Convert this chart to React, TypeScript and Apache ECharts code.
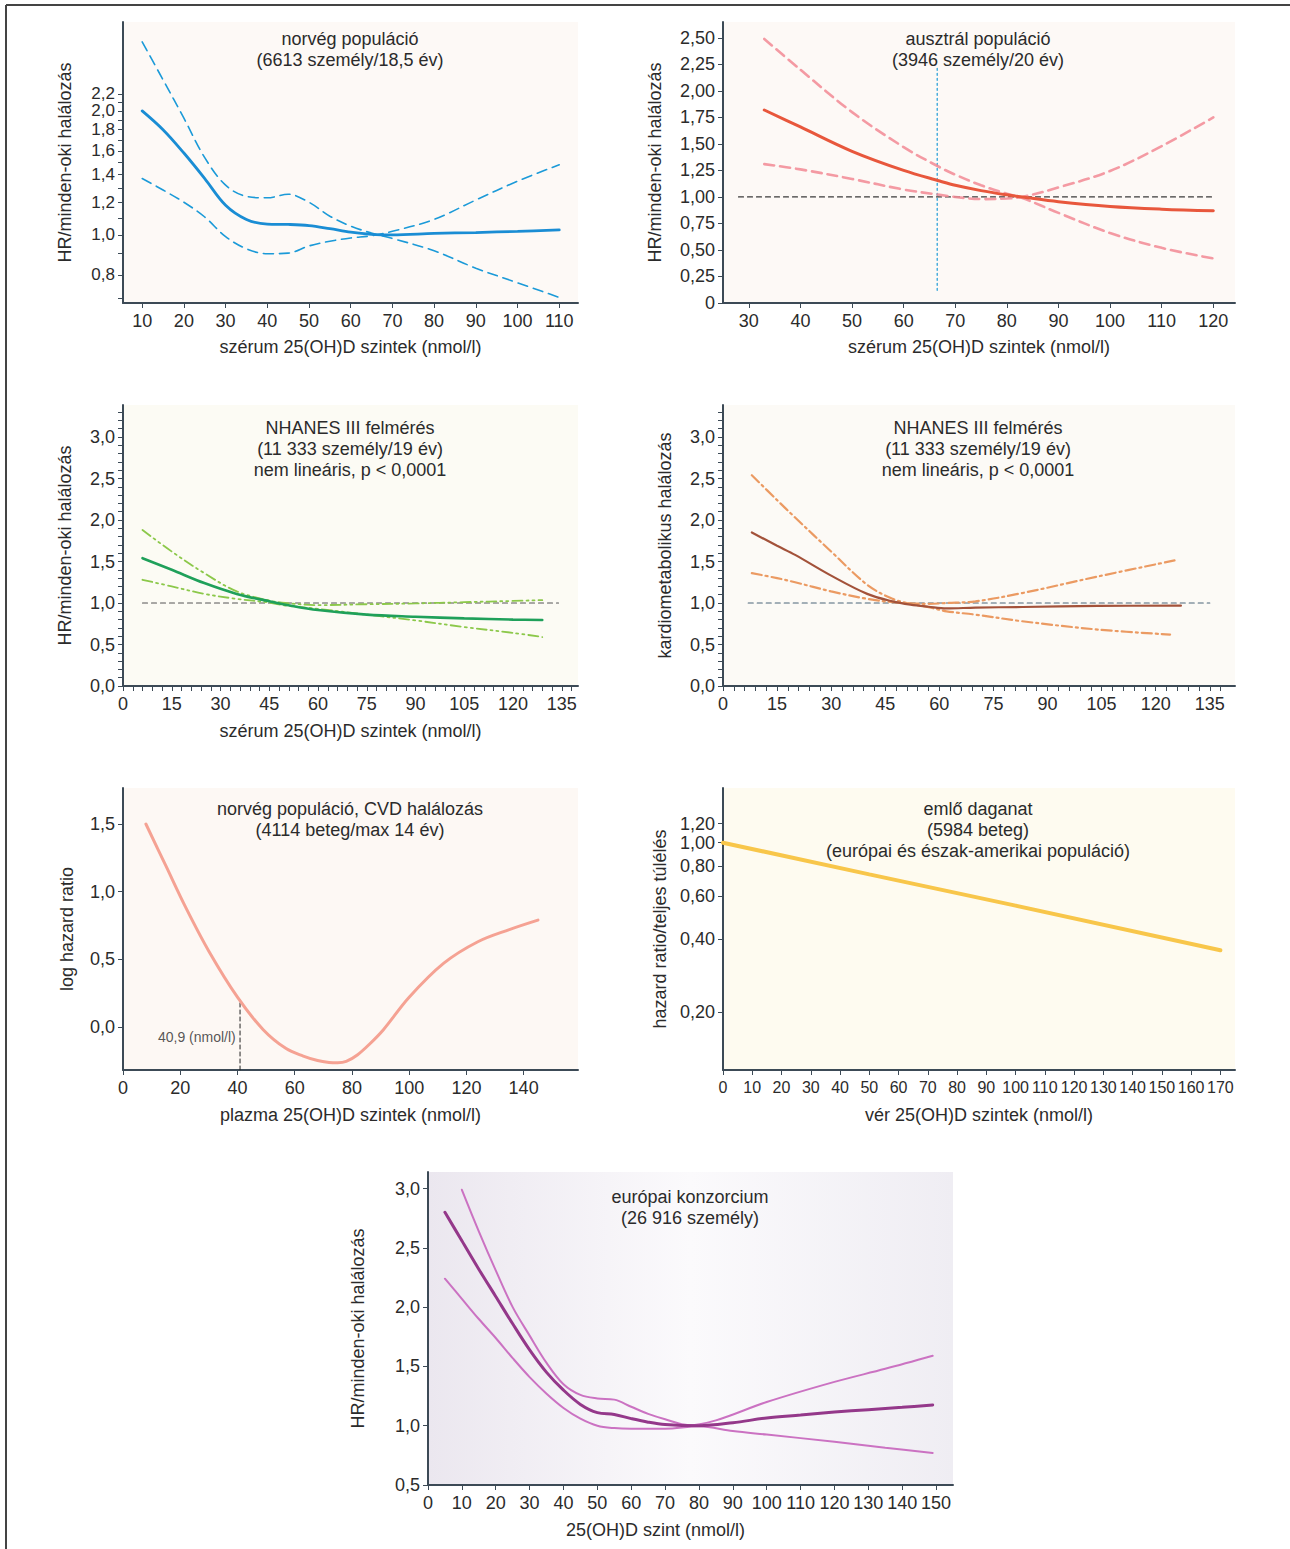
import React, { useEffect, useRef } from "react";
import * as echarts from "echarts";

// ---------- Panel 1: norvég populáció ----------
const norX = [10, 15, 20, 25, 30, 35, 40, 45, 50, 55, 60, 65, 70, 80, 90, 100, 110];
const norHR = [2.0, 1.8, 1.58, 1.37, 1.18, 1.09, 1.062, 1.06, 1.053, 1.035, 1.015, 1.003, 1.0, 1.008, 1.013, 1.02, 1.028];
const norUpper = [2.94, 2.38, 1.92, 1.54, 1.32, 1.24, 1.23, 1.255, 1.2, 1.11, 1.05, 1.01, 0.98, 0.915, 0.83, 0.765, 0.705];
const norLower = [1.37, 1.285, 1.2, 1.105, 0.99, 0.925, 0.9, 0.903, 0.94, 0.965, 0.983, 0.995, 1.02, 1.09, 1.215, 1.35, 1.48];
const norXLabels = [10, 20, 30, 40, 50, 60, 70, 80, 90, 100, 110];
const norYLabels = [0.8, 1.0, 1.2, 1.4, 1.6, 1.8, 2.0, 2.2];
const norYTicks = [0.7, 0.8, 0.9, 1.0, 1.1, 1.2, 1.3, 1.4, 1.5, 1.6, 1.7, 1.8, 1.9, 2.0, 2.1, 2.2];

// ---------- Panel 2: ausztrál populáció ----------
const ausX = [33, 40, 50, 60, 67, 70, 75, 80, 83, 90, 100, 110, 120];
const ausHR = [1.82, 1.66, 1.43, 1.25, 1.15, 1.11, 1.06, 1.02, 1.0, 0.955, 0.91, 0.885, 0.87];
const ausUpper = [2.49, 2.2, 1.8, 1.47, 1.28, 1.21, 1.11, 1.03, 0.99, 0.85, 0.66, 0.52, 0.42];
const ausLower = [1.31, 1.26, 1.17, 1.07, 1.02, 1.0, 0.98, 0.985, 1.0, 1.09, 1.245, 1.48, 1.75];
const ausRefX = [28, 120];
const ausCutoff = 66.5;
const ausXLabels = [30, 40, 50, 60, 70, 80, 90, 100, 110, 120];
const ausYLabels = [0, 0.25, 0.5, 0.75, 1.0, 1.25, 1.5, 1.75, 2.0, 2.25, 2.5];

// ---------- Panel 3: NHANES III (összes halálozás) ----------
const nhX = [6, 15, 25, 35, 45, 50, 60, 75, 90, 105, 120, 129];
const nhHR = [1.54, 1.4, 1.24, 1.11, 1.02, 0.98, 0.915, 0.86, 0.835, 0.815, 0.8, 0.795];
const nhUpper = [1.88, 1.62, 1.36, 1.14, 1.03, 1.0, 0.975, 0.985, 0.995, 1.01, 1.025, 1.035];
const nhLower = [1.28, 1.2, 1.11, 1.05, 1.005, 0.97, 0.93, 0.86, 0.79, 0.71, 0.64, 0.59];
const nhRefX = [6, 134];

// ---------- Panel 4: NHANES III (kardiometabolikus) ----------
const kmX = [8, 15, 20, 30, 40, 47, 52, 57, 62, 70, 83, 104, 127];
const kmHR = [1.85, 1.69, 1.58, 1.33, 1.11, 1.02, 0.98, 0.955, 0.935, 0.945, 0.952, 0.965, 0.968];
const kmCiAX = [8, 15, 20, 30, 40, 47, 52, 57, 62, 70, 83, 104, 124];
const kmCiA = [2.54, 2.24, 2.03, 1.62, 1.22, 1.05, 0.99, 0.95, 0.9, 0.86, 0.78, 0.68, 0.62];
const kmCiBX = [8, 15, 20, 30, 40, 47, 52, 57, 62, 70, 83, 104, 126];
const kmCiB = [1.36, 1.3, 1.25, 1.14, 1.05, 1.01, 0.995, 0.99, 1.0, 1.02, 1.12, 1.32, 1.52];
const kmRefX = [7, 135];

const nhXLabels = [0, 15, 30, 45, 60, 75, 90, 105, 120, 135];
const nhXTicks = [0, 3, 6, 9, 12, 15, 18, 21, 24, 27, 30, 33, 36, 39, 42, 45, 48, 51, 54, 57, 60, 63, 66, 69, 72, 75, 78, 81, 84, 87, 90, 93, 96, 99, 102, 105, 108, 111, 114, 117, 120, 123, 126, 129, 132, 135, 138];
const nhYLabels = [0, 0.5, 1.0, 1.5, 2.0, 2.5, 3.0];
const nhYTicks = [0, 0.1, 0.2, 0.3, 0.4, 0.5, 0.6, 0.7, 0.8, 0.9, 1.0, 1.1, 1.2, 1.3, 1.4, 1.5, 1.6, 1.7, 1.8, 1.9, 2.0, 2.1, 2.2, 2.3, 2.4, 2.5, 2.6, 2.7, 2.8, 2.9, 3.0, 3.1, 3.2, 3.3];

// ---------- Panel 5: norvég, CVD ----------
const cvdX = [8, 15, 22, 30, 40, 49, 57, 63, 68, 72, 75, 78, 82, 86, 91, 100, 112, 124, 135, 145];
const cvdLogHR = [1.5, 1.19, 0.88, 0.56, 0.22, -0.02, -0.16, -0.215, -0.248, -0.262, -0.265, -0.255, -0.205, -0.13, -0.02, 0.22, 0.47, 0.63, 0.72, 0.79];
const cvdCut = 40.9;
const cvdXLabels = [0, 20, 40, 60, 80, 100, 120, 140];
const cvdYLabels = [0, 0.5, 1.0, 1.5];

// ---------- Panel 6: emlő daganat ----------
const brX = [0, 50, 100, 170];
const brHR = [1.0, 0.74, 0.55, 0.36];
const brXLabels = [0, 10, 20, 30, 40, 50, 60, 70, 80, 90, 100, 110, 120, 130, 140, 150, 160, 170];
const brYLabels = [0.2, 0.4, 0.6, 0.8, 1.0, 1.2];

// ---------- Panel 7: európai konzorcium ----------
const euX = [5, 10, 15, 20, 25, 30, 35, 40, 45, 50, 55, 60, 65, 70, 80, 90, 100, 110, 120, 130, 140, 149];
const euHR = [2.8, 2.56, 2.32, 2.09, 1.86, 1.64, 1.45, 1.3, 1.18, 1.11, 1.095, 1.06, 1.03, 1.01, 1.0, 1.025, 1.065, 1.09, 1.115, 1.135, 1.155, 1.175];
const euUpX = [10, 15, 20, 25, 30, 35, 40, 45, 50, 55, 60, 65, 70, 77, 85, 100, 120, 135, 149];
const euUpper = [2.99, 2.64, 2.31, 2.0, 1.76, 1.53, 1.35, 1.26, 1.23, 1.22, 1.16, 1.1, 1.055, 1.005, 1.045, 1.2, 1.37, 1.48, 1.59];
const euLoX = [5, 10, 15, 20, 25, 30, 35, 40, 45, 50, 55, 60, 70, 80, 90, 100, 120, 135, 149];
const euLower = [2.24, 2.07, 1.9, 1.74, 1.57, 1.41, 1.27, 1.15, 1.06, 1.0, 0.98, 0.975, 0.975, 0.995, 0.955, 0.925, 0.865, 0.815, 0.77];
const euXLabels = [0, 10, 20, 30, 40, 50, 60, 70, 80, 90, 100, 110, 120, 130, 140, 150];
const euYLabels = [0.5, 1.0, 1.5, 2.0, 2.5, 3.0];

const FONT = "'Liberation Sans', Arial, Helvetica, sans-serif";
const AXIS = "#3c4a56";
const TXT = "#2b2b2b";
const FS = 18;

const ln = (v: number) => Math.log(v);
const comma = (s: string) => s.replace(".", ",");

function pts(xs: number[], ys: number[], tf: (v: number) => number = (v) => v) {
  return xs.map((x, i) => [x, tf(ys[i])]);
}

function xAxis(gi: number, min: number, max: number, labels: number[], ticks: number[], name: string, opts: any = {}) {
  return {
    type: "value",
    gridIndex: gi,
    min,
    max,
    name,
    nameLocation: "middle",
    nameGap: opts.nameGap ?? 35,
    nameTextStyle: { fontSize: FS, color: TXT, fontFamily: FONT, padding: opts.namePadding ?? 0 },
    axisLine: { show: true, onZero: false, lineStyle: { color: AXIS, width: 2 } },
    axisTick: { show: true, length: 5, customValues: ticks, lineStyle: { color: AXIS, width: 1 } },
    axisLabel: {
      customValues: labels,
      showMinLabel: true,
      showMaxLabel: true,
      hideOverlap: false,
      fontSize: opts.fontSize ?? FS,
      color: TXT,
      fontFamily: FONT,
      margin: 9,
      formatter: (v: number) => String(Math.round(v)),
    },
    splitLine: { show: false },
  };
}

function yAxis(gi: number, min: number, max: number, labels: number[], ticks: number[], name: string, fmt: (v: number) => string, gap: number, fontSize: number = FS) {
  return {
    type: "value",
    gridIndex: gi,
    min,
    max,
    name,
    nameLocation: "middle",
    nameGap: gap,
    nameTextStyle: { fontSize: FS, color: TXT, fontFamily: FONT },
    axisLine: { show: true, onZero: false, lineStyle: { color: AXIS, width: 2 } },
    axisTick: { show: true, length: 5, customValues: ticks, lineStyle: { color: AXIS, width: 1 } },
    axisLabel: {
      customValues: labels,
      showMinLabel: true,
      showMaxLabel: true,
      hideOverlap: false,
      fontSize,
      color: TXT,
      fontFamily: FONT,
      margin: 8,
      formatter: fmt,
    },
    splitLine: { show: false },
  };
}

function line(gi: number, data: number[][], color: string, width: number, type: any = "solid", smooth: number | boolean = 0.35) {
  return {
    type: "line",
    xAxisIndex: gi,
    yAxisIndex: gi,
    data,
    smooth,
    symbol: "none",
    silent: true,
    lineStyle: { color, width, type, cap: "round" },
    z: 3,
  };
}

export default function App() {
  const ref = useRef<HTMLDivElement>(null);
  useEffect(() => {
    document.body.style.margin = "0";
    const chart = echarts.init(ref.current!, null, { renderer: "svg" });

    const grids = [
      { left: 123, top: 22, width: 455, height: 281, show: true, borderWidth: 0, backgroundColor: "#fdf9f6" },
      { left: 723, top: 22, width: 512, height: 281, show: true, borderWidth: 0, backgroundColor: "#fdf9f6" },
      { left: 123, top: 405, width: 455, height: 281, show: true, borderWidth: 0, backgroundColor: "#fcfbf4" },
      { left: 723, top: 405, width: 512, height: 281, show: true, borderWidth: 0, backgroundColor: "#fcfaf6" },
      { left: 123, top: 788, width: 455, height: 282, show: true, borderWidth: 0, backgroundColor: "#fdf8f4" },
      { left: 723, top: 788, width: 512, height: 282, show: true, borderWidth: 0, backgroundColor: "#fefbf0" },
      {
        left: 428, top: 1172, width: 525, height: 313, show: true, borderWidth: 0,
        backgroundColor: {
          type: "linear", x: 0, y: 0, x2: 1, y2: 0,
          colorStops: [
            { offset: 0, color: "#ebe7ef" },
            { offset: 0.5, color: "#fbfafc" },
            { offset: 1, color: "#efedf3" },
          ],
        },
      },
    ];

    const f1 = (v: number) => comma(v.toFixed(1));
    const fLn1 = (v: number) => comma(Math.exp(v).toFixed(1));
    const fLn2 = (v: number) => comma(Math.exp(v).toFixed(2));
    const fAus = (v: number) => (Math.abs(v) < 1e-9 ? "0" : comma(v.toFixed(2)));

    const xAxes = [
      xAxis(0, 5.4, 114.5, norXLabels, norXLabels, "szérum 25(OH)D szintek (nmol/l)"),
      xAxis(1, 25, 124.2, ausXLabels, ausXLabels, "szérum 25(OH)D szintek (nmol/l)"),
      xAxis(2, 0, 140, nhXLabels, nhXTicks, "szérum 25(OH)D szintek (nmol/l)", { nameGap: 36 }),
      xAxis(3, 0, 142, nhXLabels, nhXTicks, ""),
      xAxis(4, 0, 159, cvdXLabels, cvdXLabels, "plazma 25(OH)D szintek (nmol/l)", { nameGap: 36 }),
      xAxis(5, 0, 175, brXLabels, brXLabels, "vér 25(OH)D szintek (nmol/l)", { nameGap: 36, fontSize: 16 }),
      xAxis(6, 0, 155, euXLabels, euXLabels, "25(OH)D szint (nmol/l)", { nameGap: 36, namePadding: [0, 70, 0, 0] }),
    ];

    const yAxes = [
      yAxis(0, -0.381, 1.19, norYLabels.map(ln), norYTicks.map(ln), "HR/minden-oki halálozás", fLn1, 49, 17),
      yAxis(1, 0, 2.65, ausYLabels, ausYLabels, "HR/minden-oki halálozás", fAus, 59),
      yAxis(2, 0, 3.386, nhYLabels, nhYTicks, "HR/minden-oki halálozás", f1, 49),
      yAxis(3, 0, 3.386, nhYLabels, nhYTicks, "kardiometabolikus halálozás", f1, 49),
      yAxis(4, -0.318, 1.766, cvdYLabels, cvdYLabels, "log hazard ratio", f1, 47),
      yAxis(5, -2.16, 0.52, brYLabels.map(ln), brYLabels.map(ln), "hazard ratio/teljes túlélés", fLn2, 54),
      yAxis(6, 0.5, 3.14, euYLabels, euYLabels, "HR/minden-oki halálozás", f1, 61),
    ];

    const blue = "#1b9ad8";
    const redMain = "#e8573c";
    const redCI = "rgba(242,138,148,0.85)";
    const greenMain = "#1fa05a";
    const greenCI = "#8cc84a";
    const brownMain = "#a3523a";
    const brownCI = "#eb9a62";
    const refDash = [5, 4];

    const series: any[] = [
      // Panel 1
      line(0, pts(norX, norUpper, ln), blue, 1.6, [10, 6]),
      line(0, pts(norX, norLower, ln), blue, 1.6, [10, 6]),
      line(0, pts(norX, norHR, ln), "#1a8dd4", 2.8),
      // Panel 2
      line(1, pts(ausRefX, [1, 1]), "#3a3a3a", 1.2, refDash, false),
      line(1, [[ausCutoff, 0.12], [ausCutoff, 2.23]], "#1a9ad6", 1.2, [2, 3], false),
      line(1, pts(ausX, ausUpper), redCI, 2.6, [10, 6]),
      line(1, pts(ausX, ausLower), redCI, 2.6, [10, 6]),
      line(1, pts(ausX, ausHR), redMain, 3),
      // Panel 3
      line(2, pts(nhRefX, [1, 1]), "#555555", 1.2, refDash, false),
      line(2, pts(nhX, nhUpper), greenCI, 1.8, [10, 4, 2, 4, 2, 4]),
      line(2, pts(nhX, nhLower), greenCI, 1.8, [10, 4, 2, 4, 2, 4]),
      line(2, pts(nhX, nhHR), greenMain, 2.6),
      // Panel 4
      line(3, pts(kmRefX, [1, 1]), "#4a6478", 1.2, refDash, false),
      line(3, pts(kmCiAX, kmCiA), brownCI, 2.2, [10, 4, 2, 4]),
      line(3, pts(kmCiBX, kmCiB), brownCI, 2.2, [10, 4, 2, 4]),
      line(3, pts(kmX, kmHR), brownMain, 2.2),
      // Panel 5
      line(4, [[cvdCut, -0.318], [cvdCut, 0.2]], "#222222", 1, [4, 3], false),
      line(4, pts(cvdX, cvdLogHR), "#f5a293", 3),
      {
        type: "scatter",
        xAxisIndex: 4,
        yAxisIndex: 4,
        data: [[cvdCut - 1.5, -0.075]],
        symbolSize: 0,
        silent: true,
        label: {
          show: true,
          position: "left",
          distance: 0,
          formatter: "40,9 (nmol/l)",
          fontSize: 14,
          color: TXT,
          fontFamily: FONT,
        },
      },
      // Panel 6
      line(5, pts(brX, brHR, ln), "#f8c64a", 4, "solid", false),
      // Panel 7
      line(6, pts(euUpX, euUpper), "#cb72c2", 2),
      line(6, pts(euLoX, euLower), "#cb72c2", 2),
      line(6, pts(euX, euHR), "#94388a", 3),
    ];

    const titleStyle = (x: number, y: number, text: string) => ({
      type: "text",
      x,
      y,
      silent: true,
      style: {
        text,
        textAlign: "center",
        textVerticalAlign: "top",
        fontSize: FS,
        lineHeight: 21,
        fontFamily: FONT,
        fill: TXT,
      },
    });

    const graphic = [
      { type: "line", shape: { x1: 6, y1: 5, x2: 1290, y2: 5 }, style: { stroke: "#444", lineWidth: 2 }, silent: true },
      { type: "line", shape: { x1: 6, y1: 5, x2: 6, y2: 1549 }, style: { stroke: "#444", lineWidth: 2 }, silent: true },
      titleStyle(350, 28, "norvég populáció\n(6613 személy/18,5 év)"),
      titleStyle(978, 28, "ausztrál populáció\n(3946 személy/20 év)"),
      titleStyle(350, 417, "NHANES III felmérés\n(11 333 személy/19 év)\nnem lineáris, p < 0,0001"),
      titleStyle(978, 417, "NHANES III felmérés\n(11 333 személy/19 év)\nnem lineáris, p < 0,0001"),
      titleStyle(350, 798, "norvég populáció, CVD halálozás\n(4114 beteg/max 14 év)"),
      titleStyle(978, 798, "emlő daganat\n(5984 beteg)\n(európai és észak-amerikai populáció)"),
      titleStyle(690, 1186, "európai konzorcium\n(26 916 személy)"),
    ];

    chart.setOption({
      animation: false,
      backgroundColor: "#ffffff",
      textStyle: { fontFamily: FONT },
      grid: grids,
      xAxis: xAxes,
      yAxis: yAxes,
      series,
      graphic,
    });

    return () => chart.dispose();
  }, []);

  return <div ref={ref} style={{ width: 1290, height: 1549 }} />;
}
